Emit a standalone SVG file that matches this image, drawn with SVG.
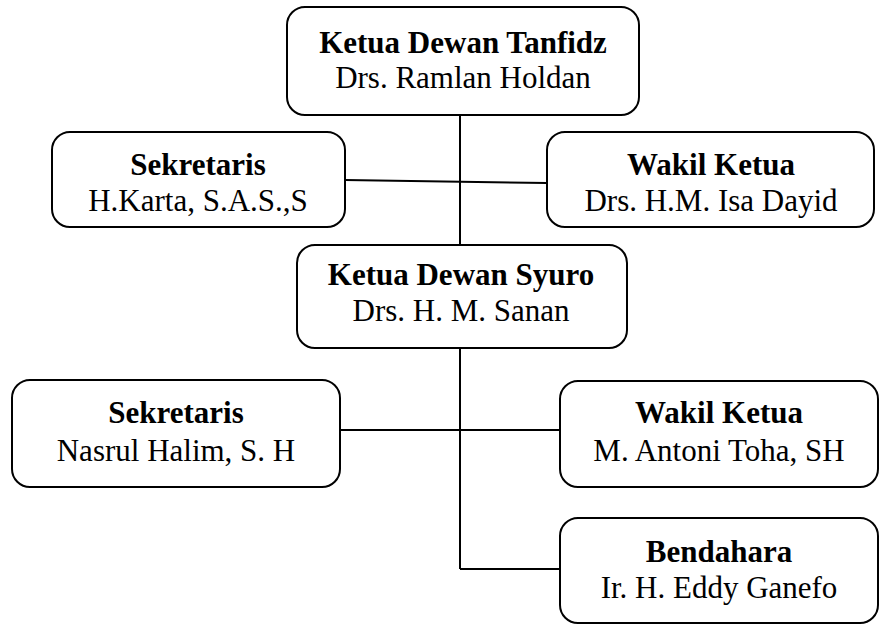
<svg xmlns="http://www.w3.org/2000/svg" width="880" height="624" viewBox="0 0 880 624">
<style>
.box{fill:#fff;stroke:#000;stroke-width:2}
.ln{fill:none;stroke:#000;stroke-width:2}
text{font-family:"Liberation Serif","Times New Roman",serif;font-size:31px;text-anchor:middle;fill:#000}
.b{font-weight:bold}
</style>
<rect width="880" height="624" fill="#fff"/>
<g id="connectors">
<line class="ln" x1="460" y1="115" x2="460" y2="245"/>
<line class="ln" x1="345" y1="180" x2="547" y2="183"/>
<line class="ln" x1="460" y1="348" x2="460" y2="569"/>
<line class="ln" x1="340" y1="430" x2="560" y2="430"/>
<line class="ln" x1="460" y1="569" x2="560" y2="569"/>
</g>
<g id="tanfidz">
<rect class="box" x="287" y="7" width="352" height="108" rx="18"/>
<text class="b" x="463" y="53">Ketua Dewan Tanfidz</text>
<text x="463" y="88">Drs. Ramlan Holdan</text>
</g>
<g id="sekretaris1">
<rect class="box" x="52" y="132" width="293" height="95" rx="18"/>
<text class="b" x="198" y="175">Sekretaris</text>
<text x="198" y="211">H.Karta, S.A.S.,S</text>
</g>
<g id="wakil1">
<rect class="box" x="547" y="132" width="327" height="95" rx="18"/>
<text class="b" x="711" y="175">Wakil Ketua</text>
<text x="711" y="211">Drs. H.M. Isa Dayid</text>
</g>
<g id="syuro">
<rect class="box" x="297" y="245" width="330" height="103" rx="18"/>
<text class="b" x="461" y="285">Ketua Dewan Syuro</text>
<text x="461" y="321">Drs. H. M. Sanan</text>
</g>
<g id="sekretaris2">
<rect class="box" x="12" y="380" width="328" height="107" rx="18"/>
<text class="b" x="176" y="423">Sekretaris</text>
<text x="176" y="461">Nasrul Halim, S. H</text>
</g>
<g id="wakil2">
<rect class="box" x="560" y="381" width="318" height="106" rx="18"/>
<text class="b" x="719" y="423">Wakil Ketua</text>
<text x="719" y="461">M. Antoni Toha, SH</text>
</g>
<g id="bendahara">
<rect class="box" x="560" y="518" width="318" height="105" rx="18"/>
<text class="b" x="719" y="562">Bendahara</text>
<text x="719" y="598">Ir. H. Eddy Ganefo</text>
</g>
</svg>
